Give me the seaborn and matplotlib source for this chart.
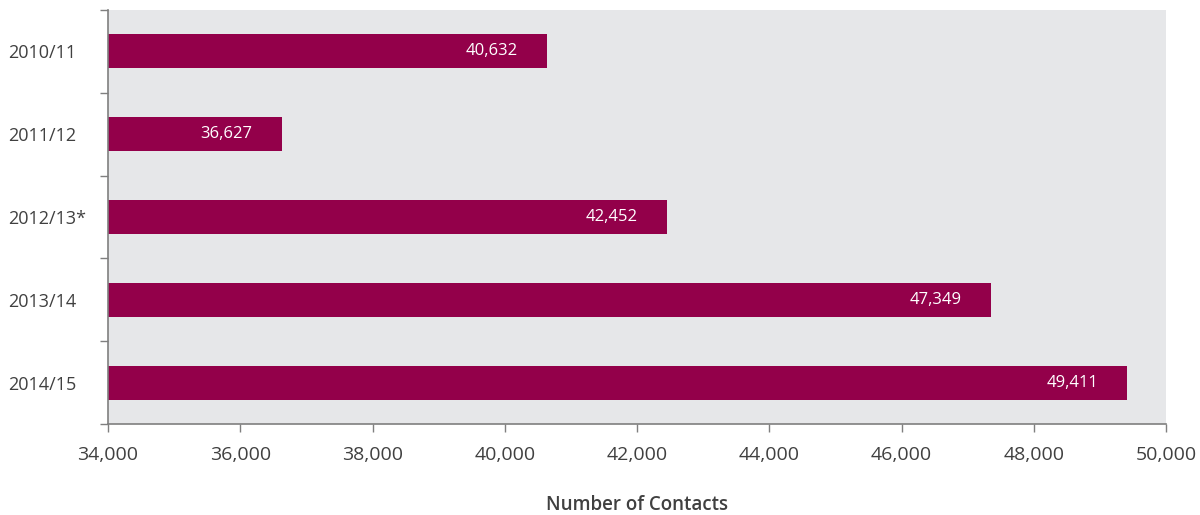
import matplotlib
matplotlib.use("Agg")
import matplotlib.pyplot as plt
from matplotlib.ticker import FuncFormatter, FixedLocator
import seaborn as sns
import pandas as pd

years = ["2010/11", "2011/12", "2012/13*", "2013/14", "2014/15"]
contacts = [40632, 36627, 42452, 47349, 49411]
x_ticks = [34000, 36000, 38000, 40000, 42000, 44000, 46000, 48000, 50000]

df = pd.DataFrame({"year": years, "contacts": contacts})

sns.set_theme(style="white")
plt.rcParams["font.family"] = ["Open Sans", "DejaVu Sans"]

bar_color = "#93004A"
text_color = "#404040"
axis_color = "#7f7f7f"

fig = plt.figure(figsize=(12, 5.15), dpi=100)
ax = fig.add_axes([0.09, 0.1767, 0.8817, 0.8039])
ax.set_facecolor("#E6E7E9")

sns.barplot(data=df, x="contacts", y="year", orient="h", color=bar_color,
            saturation=1, width=0.41, linewidth=0, ax=ax)

ax.set_xlim(34000, 50000)
ax.set_ylim(len(years) - 0.5, -0.5)

# value labels inside the bar ends
for i, v in enumerate(contacts):
    ax.annotate(f"{v:,}", xy=(v, i), xytext=(-21, 0), textcoords="offset points",
                ha="right", va="center", color="white", fontsize=12)

ax.set_xticks(x_ticks)
ax.xaxis.set_major_formatter(FuncFormatter(lambda x, p: f"{int(x):,}"))
ax.tick_params(axis="x", length=6, width=1, color=axis_color, colors=text_color,
               labelsize=14, pad=10, bottom=True)

ax.yaxis.set_minor_locator(FixedLocator([i - 0.5 for i in range(len(years) + 1)]))
ax.tick_params(axis="y", which="major", length=0, labelsize=13, colors=text_color, pad=72)
ax.tick_params(axis="y", which="minor", length=6, width=1, color=axis_color, left=True)
for lbl in ax.get_yticklabels():
    lbl.set_ha("left")

for s in ["top", "right"]:
    ax.spines[s].set_visible(False)
for s in ["left", "bottom"]:
    ax.spines[s].set_color(axis_color)
    ax.spines[s].set_linewidth(1.2)

ax.set_ylabel("")
ax.set_xlabel("Number of Contacts", fontsize=13.5, color=text_color,
              fontweight="semibold", labelpad=22)

fig.savefig("out.png", dpi=100)
